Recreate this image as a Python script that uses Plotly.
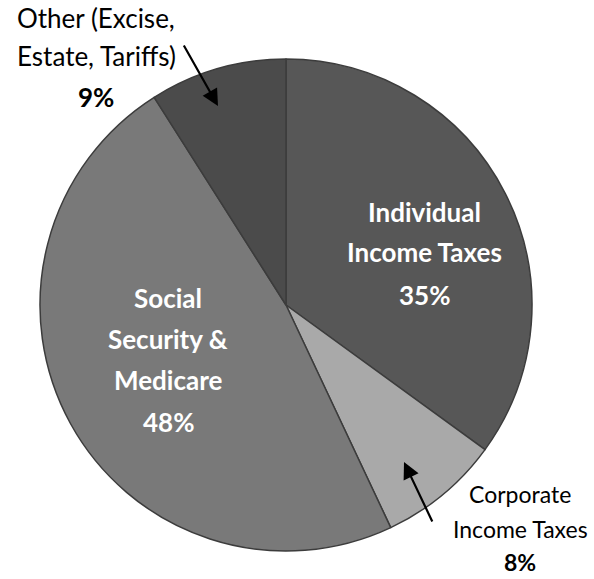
import plotly.graph_objects as go

labels = ["Individual Income Taxes", "Corporate Income Taxes", "Social Security & Medicare", "Other (Excise, Estate, Tariffs)"]
values = [35, 8, 48, 9]
colors = ["#575757", "#a9a9a9", "#797979", "#4b4b4b"]

W, H = 594, 579
cx, cy, r = 286, 305, 246

fig = go.Figure(go.Pie(
    labels=labels, values=values, sort=False, direction="clockwise", rotation=0,
    marker=dict(colors=colors, line=dict(color="#3c3c3c", width=1.5)),
    textinfo="none", hoverinfo="label+percent", showlegend=False,
    domain=dict(x=[(cx - r) / W, (cx + r) / W], y=[(H - cy - r) / H, (H - cy + r) / H]),
))

FONT = "Lato, sans-serif"

def px(x, y):
    return x / W, 1 - y / H

anns = []
def line(text, x, y, size, color, bold=False):
    ax, ay = px(x, y)
    t = f"<b>{text}</b>" if bold else text
    anns.append(dict(text=t, x=ax, y=ay, xref="paper", yref="paper", showarrow=False,
                     xanchor="center", yanchor="middle",
                     font=dict(family=FONT, size=size, color=color)))

pct = [f"{v}%" for v in values]

# inside labels
for t, y in zip(["Individual", "Income Taxes", pct[0]], [212, 252, 295]):
    line(t, 424, y, 26, "white", bold=True)
for t, y in zip(["Social", "Security &", "Medicare", pct[2]], [298, 339, 380, 422]):
    line(t, 168, y, 26, "white", bold=True)

# outside labels
for t, y, b in zip(["Other (Excise,", "Estate, Tariffs)", pct[3]], [18, 56, 97], [False, False, True]):
    line(t, 96, y, 26, "black", bold=b)
for t, y, b in zip(["Corporate", "Income Taxes", pct[1]], [494, 529, 562], [False, False, True]):
    line(t, 520, y, 23, "black", bold=b)

# arrows
def arrow(x0, y0, x1, y1):
    hx, hy = px(x1, y1)
    anns.append(dict(x=hx, y=hy, ax=x0 - x1, ay=y0 - y1, xref="paper", yref="paper",
                     axref="pixel", ayref="pixel",
                     text="", showarrow=True, arrowhead=2, arrowsize=1.5, arrowwidth=2.2, arrowcolor="black"))

arrow(183, 44, 218, 106)
arrow(433, 523, 404, 462)

fig.update_layout(width=W, height=H, margin=dict(l=0, r=0, t=0, b=0),
                  paper_bgcolor="white", plot_bgcolor="white", annotations=anns)

fig.write_html("out.html")
